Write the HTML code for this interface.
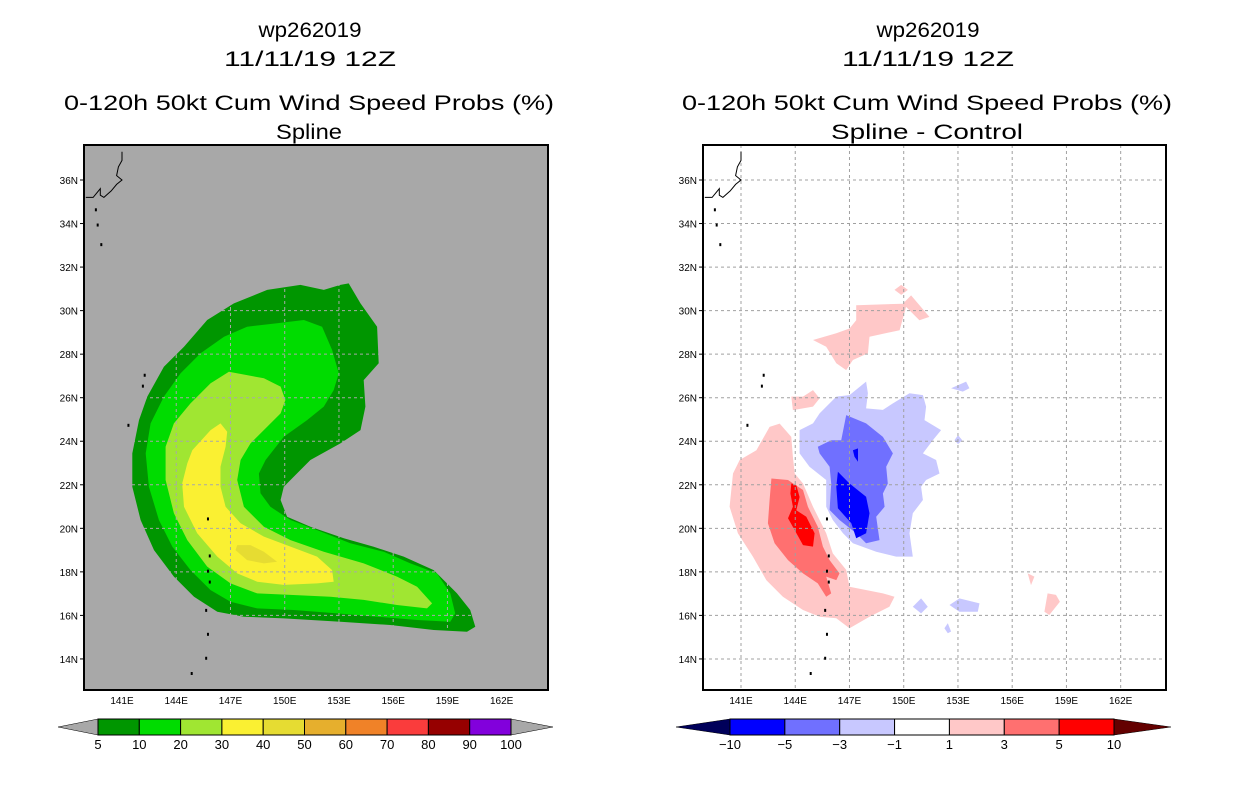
<!DOCTYPE html>
<html><head><meta charset="utf-8"><style>
html,body{margin:0;padding:0;background:#fff;}
svg{display:block;font-family:"Liberation Sans",sans-serif;}
</style></head><body>
<svg id="chart" width="1236" height="800" viewBox="0 0 1236 800">
<g id="titles" fill="#000" font-size="21" text-anchor="middle">
<text x="310" y="37" textLength="103" lengthAdjust="spacingAndGlyphs">wp262019</text>
<text x="310" y="66" textLength="172" lengthAdjust="spacingAndGlyphs">11/11/19 12Z</text>
<text x="309" y="110" textLength="490" lengthAdjust="spacingAndGlyphs">0-120h 50kt Cum Wind Speed Probs (%)</text>
<text x="309" y="139" textLength="66" lengthAdjust="spacingAndGlyphs">Spline</text>
<text x="928" y="37" textLength="103" lengthAdjust="spacingAndGlyphs">wp262019</text>
<text x="928" y="66" textLength="172" lengthAdjust="spacingAndGlyphs">11/11/19 12Z</text>
<text x="927" y="110" textLength="490" lengthAdjust="spacingAndGlyphs">0-120h 50kt Cum Wind Speed Probs (%)</text>
<text x="927" y="139" textLength="192" lengthAdjust="spacingAndGlyphs">Spline - Control</text>
</g>
<g id="left"></g>
<g id="right"></g>
<g id="cbars"></g>
</svg>
<script>
// ---- data (lon, lat pairs) ----
const lonTicks = [141,144,147,150,153,156,159,162];
const latTicks = [14,16,18,20,22,24,26,28,30,32,34,36];
const probLevels = ["5","10","20","30","40","50","60","70","80","90","100"];
const probColors = ["#009600","#00dc00","#a0e632","#faf032","#e6dc32","#e6af2d","#f08228","#fa3c3c","#960000","#8200dc"];
const diffLevels = ["-10","-5","-3","-1","1","3","5","10"];
const diffColors = ["#0000ff","#7070ff","#c8c8ff","#ffffff","#ffc8c8","#ff7070","#ff0000"];

const prob5 = [[153.08,31.18],[153.54,31.25],[154.19,30.33],[155.11,29.26],[155.2,27.58],[154.37,26.81],[154.46,25.59],[154.19,24.51],[153.08,23.9],[151.42,23.14],[149.95,21.91],[149.77,21.3],[150.13,20.53],[151.42,20.07],[153.27,19.54],[154.92,19.15],[156.58,18.7],[158.24,18.08],[159.53,17.01],[160.26,16.25],[160.54,15.48],[160.08,15.25],[158.24,15.33],[155.84,15.56],[153.08,15.71],[149.95,15.86],[147.74,15.94],[146.27,16.17],[144.98,16.86],[143.87,17.78],[142.77,19.0],[142.03,20.38],[141.57,21.91],[141.57,23.44],[141.94,24.97],[142.4,26.05],[143.32,27.42],[144.43,28.34],[145.71,29.57],[147.19,30.33],[149.03,30.95],[150.87,31.18],[152.16,30.95]];
const prob10 = [[147.92,29.26],[149.58,29.42],[151.06,29.57],[152.07,29.26],[152.62,28.19],[152.99,27.12],[152.71,26.35],[152.16,25.59],[151.24,24.97],[149.95,24.21],[148.94,23.14],[148.57,22.52],[148.66,21.61],[149.21,20.99],[150.32,20.38],[151.79,19.92],[153.63,19.31],[155.48,18.92],[156.95,18.39],[158.42,17.93],[159.16,17.01],[159.43,16.09],[159.16,15.71],[157.32,15.79],[155.11,15.94],[152.9,16.09],[150.5,16.25],[148.48,16.32],[147.0,16.63],[145.9,17.16],[144.79,18.08],[143.78,19.16],[143.04,20.38],[142.49,21.91],[142.31,23.44],[142.58,24.82],[143.32,26.05],[144.24,27.12],[145.35,28.04],[146.64,28.8]];
const prob20 = [[146.91,27.19],[148.85,26.89],[149.77,26.51],[150.04,25.89],[149.77,25.28],[149.03,24.67],[148.11,23.9],[147.56,23.14],[147.37,22.22],[147.74,20.99],[148.85,20.07],[150.32,19.46],[152.16,18.92],[154.37,18.39],[156.21,17.78],[157.32,17.32],[158.15,16.55],[157.87,16.32],[156.21,16.48],[154.37,16.71],[152.53,16.86],[150.32,16.94],[148.48,17.01],[147.0,17.47],[145.71,18.24],[144.61,19.46],[143.87,20.69],[143.41,22.22],[143.41,23.75],[143.87,24.82],[144.79,25.74],[145.9,26.66]];
const prob30 = [[146.45,24.82],[146.82,24.44],[146.73,23.75],[146.45,22.83],[146.45,21.91],[146.73,20.99],[147.56,20.23],[148.85,19.62],[150.32,19.16],[151.79,18.7],[152.62,18.08],[152.71,17.55],[151.79,17.47],[149.95,17.4],[148.48,17.55],[147.37,17.93],[146.27,18.7],[145.16,19.77],[144.43,20.99],[144.33,22.06],[144.61,22.98],[144.89,23.59],[145.9,24.51]];
const prob40 = [[147.37,19.23],[148.11,19.23],[148.85,18.92],[149.58,18.46],[148.85,18.39],[147.92,18.54],[147.28,19.0]];

const diffPos1 = [
 [[143.14,24.81],[143.78,24.2],[143.87,23.29],[143.97,22.52],[144.43,22.06],[144.98,20.99],[145.71,19.77],[146.08,18.85],[146.82,18.09],[147.0,17.32],[148.85,17.01],[149.49,16.86],[149.21,16.4],[148.11,15.94],[147.0,15.41],[146.27,15.87],[145.35,15.94],[144.43,16.25],[143.32,16.86],[142.4,17.62],[141.66,18.7],[140.83,19.77],[140.37,20.99],[140.56,22.52],[140.93,23.14],[141.85,23.59],[142.58,24.66]],
 [[147.37,30.25],[149.95,30.32],[150.41,30.7],[151.42,29.71],[150.87,29.56],[150.13,30.17],[149.77,29.1],[148.11,28.8],[148.02,28.04],[147.19,27.73],[146.82,27.27],[146.27,27.58],[145.71,28.34],[144.98,28.65],[146.27,28.96],[147.0,29.18],[147.37,29.56]],
 [[143.78,26.05],[144.43,26.05],[144.98,26.35],[145.35,25.97],[144.98,25.59],[143.87,25.43]],
 [[156.86,17.93],[157.23,17.78],[157.04,17.39]],
 [[157.96,17.01],[158.42,16.94],[158.64,16.63],[158.05,16.02],[157.78,16.17]],
 [[149.86,31.18],[150.23,30.95],[149.86,30.72],[149.49,30.95]]
];
const diffPos3 = [[[142.68,22.29],[143.6,22.22],[144.43,21.76],[144.7,20.99],[145.25,20.07],[145.53,19.16],[145.9,18.54],[146.45,17.93],[146.27,17.62],[145.71,17.78],[145.99,17.01],[145.71,16.86],[145.25,17.47],[144.43,17.93],[143.6,18.54],[142.86,19.31],[142.49,20.23],[142.58,21.3]]];
const diffPos5 = [[[143.78,22.06],[144.06,21.98],[144.24,21.44],[144.06,20.83],[144.61,20.53],[145.07,19.77],[144.98,19.16],[144.43,19.23],[143.97,19.92],[143.6,20.46],[143.87,20.99],[143.73,21.6]]];
const diffNeg1 = [
 [[147.92,26.74],[148.02,26.2],[147.92,25.51],[148.85,25.44],[149.4,25.74],[150.32,26.2],[151.06,26.12],[151.24,25.59],[151.15,24.97],[152.07,24.51],[151.61,24.05],[151.06,23.44],[151.79,23.14],[151.98,22.52],[151.24,22.22],[150.96,21.91],[151.06,21.3],[150.5,20.69],[150.32,19.77],[150.5,18.7],[149.58,18.7],[148.48,18.92],[147.19,19.31],[146.64,19.77],[146.08,20.38],[145.71,20.99],[145.71,22.22],[144.79,22.83],[144.24,23.44],[144.24,24.51],[144.98,24.82],[145.35,25.28],[146.27,26.05],[147.0,26.12]],
 [[152.62,26.43],[153.45,26.74],[153.63,26.43],[153.27,26.28]],
 [[150.5,16.4],[150.96,16.78],[151.33,16.4],[150.96,16.09]],
 [[152.53,16.48],[153.08,16.78],[154.19,16.55],[154.1,16.17],[153.08,16.17]],
 [[152.25,15.41],[152.44,15.64],[152.62,15.26],[152.44,15.18]],
 [[152.81,24.05],[153.0,24.28],[153.24,24.05],[153.0,23.87]]
];
const diffNeg3 = [[[146.82,25.2],[147.92,24.82],[148.85,24.2],[149.4,23.44],[149.03,22.83],[149.12,22.06],[148.85,21.6],[148.94,20.99],[148.48,20.53],[148.66,19.46],[147.92,19.31],[147.37,19.77],[146.45,20.38],[145.9,20.84],[145.99,22.06],[145.9,22.83],[145.35,23.44],[145.25,23.75],[145.99,24.05],[146.54,24.05]]];
const diffNeg5 = [
 [[146.36,22.6],[147.0,22.06],[147.92,21.45],[148.11,20.69],[147.92,19.77],[147.37,19.54],[147.1,20.23],[146.36,20.92],[146.27,21.91]],
 [[147.19,23.59],[147.47,23.67],[147.47,23.06],[147.28,23.29]]
];
const coast = [[141.0,37.3],[141.0,36.9],[140.8,36.6],[140.7,36.2],[141.0,36.0],[140.7,35.8],[140.4,35.5],[140.0,35.2],[139.8,35.3],[139.8,35.6],[139.6,35.4],[139.4,35.2],[139.0,35.2]];
const islands = [[139.5,34.7],[139.6,34.0],[139.8,33.1],[142.2,27.1],[142.1,26.6],[141.3,24.8],[145.7,20.5],[145.8,18.8],[145.7,18.1],[145.8,17.6],[145.6,16.3],[145.7,15.2],[145.6,14.1],[144.8,13.4]];

// ---- axes ----
const panels = {left:{x0:84,x1:548,lon0x:122}, right:{x0:703,x1:1166,lon0x:741}};
const Y0=145, Y1=690, DX=18.08, DY=21.77;
const NS="http://www.w3.org/2000/svg";
function X(p,lon){return panels[p].lon0x+(lon-141)*DX;}
function Y(lat){return 180+(36-lat)*DY;}
function mk(tag,attrs,parent){const e=document.createElementNS(NS,tag);for(const k in attrs)e.setAttribute(k,attrs[k]);parent.appendChild(e);return e;}
function pts(p,arr){return arr.map(d=>X(p,d[0]).toFixed(1)+","+Y(d[1]).toFixed(1)).join(" ");}

function drawPanel(p,bg){
  const g=document.getElementById(p), P=panels[p];
  const clipId="clip-"+p;
  const cp=mk("clipPath",{id:clipId},g); mk("rect",{x:P.x0,y:Y0,width:P.x1-P.x0,height:Y1-Y0},cp);
  const bgr=mk("rect",{x:P.x0,y:Y0,width:P.x1-P.x0,height:Y1-Y0,fill:bg},g);
  
  
  const body=mk("g",{"clip-path":"url(#"+clipId+")"},g);
  return body;
}
function poly(p,body,arr,col,name){
  const e=mk("polygon",{points:pts(p,arr),fill:col},body);
  
  
}
function finishPanel(p,body,gridCol){
  const g=document.getElementById(p), P=panels[p];
  lonTicks.forEach(l=>{const e=mk("line",{x1:X(p,l),x2:X(p,l),y1:Y0,y2:Y1,stroke:gridCol,"stroke-width":1,"stroke-dasharray":"3,3"},body);
    
    });
  latTicks.forEach(l=>{const e=mk("line",{x1:P.x0,x2:P.x1,y1:Y(l),y2:Y(l),stroke:gridCol,"stroke-width":1,"stroke-dasharray":"3,3"},body);
    
    });
  const c=mk("polyline",{points:pts(p,coast),fill:"none",stroke:"#000","stroke-width":1},body);
  
  
  islands.forEach(d=>{const e=mk("rect",{x:X(p,d[0]),y:Y(d[1]),width:2,height:3,fill:"#000"},body);
    
    });
  const fr=mk("rect",{x:P.x0,y:Y0,width:P.x1-P.x0,height:Y1-Y0,fill:"none",stroke:"#000","stroke-width":2},g);
  
  
  latTicks.forEach(l=>{
    mk("line",{x1:P.x0-4,x2:P.x0,y1:Y(l),y2:Y(l),stroke:"#000"},g);
    const t=mk("text",{x:P.x0-6,y:Y(l)+4,"font-size":10,"text-anchor":"end"},g); t.textContent=l+"N";
    
    
  });
  lonTicks.forEach(l=>{
    const t=mk("text",{x:X(p,l),y:704,"font-size":10,"text-anchor":"middle"},g); t.textContent=l+"E";
    
    
  });
}
// left panel
let b=drawPanel("left","#a8a8a8");
poly("left",b,prob5,probColors[0],"prob-5-contour");
poly("left",b,prob10,probColors[1],"prob-10-contour");
poly("left",b,prob20,probColors[2],"prob-20-contour");
poly("left",b,prob30,probColors[3],"prob-30-contour");
poly("left",b,prob40,probColors[4],"prob-40-contour");
finishPanel("left",b,"#a8a8a8");
// right panel
b=drawPanel("right","#ffffff");
diffPos1.forEach(a=>poly("right",b,a,diffColors[4],"diff-pos-1-contour"));
diffPos3.forEach(a=>poly("right",b,a,diffColors[5],"diff-pos-3-contour"));
diffPos5.forEach(a=>poly("right",b,a,diffColors[6],"diff-pos-5-contour"));
diffNeg1.forEach(a=>poly("right",b,a,diffColors[2],"diff-neg-1-contour"));
diffNeg3.forEach(a=>poly("right",b,a,diffColors[1],"diff-neg-3-contour"));
diffNeg5.forEach(a=>poly("right",b,a,diffColors[0],"diff-neg-5-contour"));
finishPanel("right",b,"#a0a0a0");

// colorbars
function colorbar(x0,x1,tipL,tipR,cols,labels,lowCol,highCol,name){
  const g=document.getElementById("cbars"); const y0=719,y1=735,ym=727;
  const w=(x1-x0)/cols.length;
  const lt=mk("polygon",{points:`${tipL},${ym} ${x0},${y0} ${x0},${y1}`,fill:lowCol,stroke:"#000","stroke-width":0.5},g);
  
  
  const rt=mk("polygon",{points:`${tipR},${ym} ${x1},${y0} ${x1},${y1}`,fill:highCol,stroke:"#000","stroke-width":0.5},g);
  
  
  cols.forEach((c,i)=>{const r=mk("rect",{x:x0+i*w,y:y0,width:w,height:y1-y0,fill:c,stroke:"#000","stroke-width":1},g);
    
    });
  labels.forEach((l,i)=>{const t=mk("text",{x:x0+i*w,y:749,"font-size":13,"text-anchor":"middle"},g);t.textContent=l.replace("-","\u2212");
    
    });
}
colorbar(98,511,58,553,probColors,probLevels,"#a8a8a8","#a8a8a8","prob-colorbar");
colorbar(730,1114,676,1171,diffColors,diffLevels,"#00005a","#640000","diff-colorbar");
</script>
</body></html>
